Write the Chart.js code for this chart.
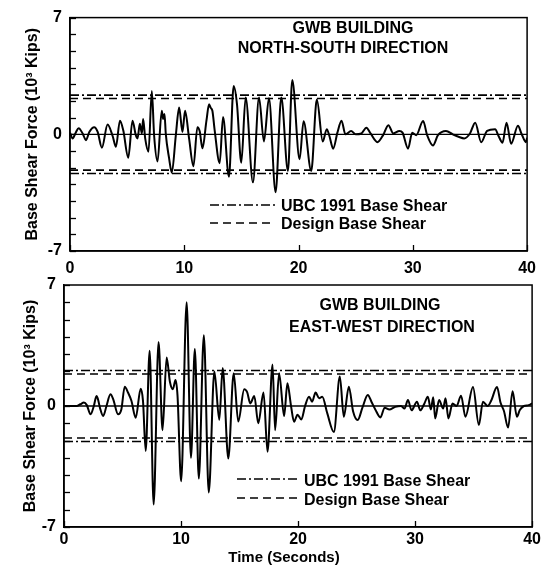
<!DOCTYPE html>
<html>
<head>
<meta charset="utf-8">
<script src="https://cdn.jsdelivr.net/npm/chart.js@4/dist/chart.umd.min.js"></script>
<style>
  html, body { margin: 0; padding: 0; background: #fff; }
  #wrap { position: relative; width: 544px; height: 567px; }
  canvas { position: absolute; left: 0; top: 0; }
</style>
</head>
<body>
<div id="wrap">
  <canvas id="ns-canvas" width="544" height="567"></canvas>
  <canvas id="ew-canvas" width="544" height="567"></canvas>
</div>
<script>
const FONT = '"Liberation Sans", Arial, Helvetica, sans-serif';
Chart.defaults.font.family = FONT;
Chart.defaults.color = '#000';

// North-South record: time (s) and base shear (10^3 kips)
const nsTime = [0, 0.23, 0.5, 0.76, 1.11, 1.4, 1.69, 2.12, 2.42, 2.79, 3.29, 3.73, 4.02, 4.37, 4.66,
  5.1, 5.47, 5.76, 5.91, 6.11, 6.29, 6.4, 6.58, 6.87, 7.16, 7.36, 7.66, 8.03, 8.15, 8.27, 8.38,
  8.67, 8.91, 9.26, 9.55, 9.84, 10.07, 10.42, 10.8, 11.15, 11.35, 11.59, 11.94, 12.17, 12.3,
  12.46, 12.66, 13.1, 13.39, 13.91, 14.32, 14.61, 14.99, 15.37, 16.01, 16.54, 16.97, 17.41,
  17.99, 18.49, 19.07, 19.45, 20.09, 20.44, 21.11, 21.6, 22.12, 22.47, 22.7, 23.03, 23.4, 23.76,
  24.1, 24.6, 25.0, 25.5, 25.94, 26.3, 26.9, 27.4, 27.86, 28.3, 28.82, 29.1, 29.58, 29.95, 30.3,
  30.9, 31.25, 31.76, 32.2, 32.9, 33.5, 34.0, 34.5, 35.0, 35.46, 35.98, 36.5, 37.2, 37.5, 37.85,
  38.2, 38.6, 39.2, 39.5, 39.9, 40];
const nsForce = [0.1, -0.25, 0.1, 0.37, 0.04, -0.35, 0.14, 0.43, 0.14, -0.8, 0.59, -0.1, -0.75, 0.82, 0.24,
  -1.4, 0.82, -0.06, -0.25, 0.63, 0.04, 0.92, -0.25, -1.04, 2.6, -0.06, -1.63, 1.41, 0.92, 1.22, 0.04,
  -1.43, -2.3, -0.06, 1.61, 0.14, 1.41, -0.25, -1.92, 0.43, 0.18, -0.84, 0.82, 1.8, 1.6,
  1.41, 0.24, -1.73, 1.04, -2.55, 2.9, 1.82, -1.7, 2.2, -2.88, 2.2, -0.43, 2.16,
  -3.47, 2.2, -2.2, 3.25, -1.5, 0.78, -2.2, 2.08, -0.43, 0.31, -0.1, -0.86, 0.1, 0.82,
  0, 0.2, 0, 0.05, 0.4, 0.05, -0.47, -0.05, 0.55, 0.05, 0.2, 0.1, -0.86, 0.1, -0.05,
  0.8, -0.05, -0.67, -0.05, 0.2, 0, -0.15, -0.25, 0.05, 0.7, -0.47, 0.2, 0.3, -0.1, -0.5,
  0.7, -0.57, 0.51, 0.05, -0.47, -0.2];
const nsUbcShear = 2.35;
const nsDesignShear = 2.15;

// East-West record
const ewTime = [0, 1.08, 1.4, 1.7, 1.95, 2.27, 2.55, 2.78, 2.92, 3.07, 3.35, 3.63, 3.97, 4.2, 4.62,
  4.9, 5.19, 5.47, 5.76, 6.13, 6.55, 6.75, 6.98, 7.32, 7.66, 8.08, 8.42, 8.77, 9.05, 9.3, 9.53,
  9.7, 10.01, 10.48, 10.85, 11.18, 11.52, 11.95, 12.37, 12.85, 13.27, 13.56, 14.04, 14.5, 14.89,
  15.4, 15.65, 15.92, 16.26, 16.6, 17.05, 17.39, 17.82, 18.04, 18.38, 18.81, 19.09, 19.4, 19.66,
  19.95, 20.28, 20.6, 20.94, 21.2, 21.5, 21.8, 22.07, 22.5, 23.06, 23.57, 23.91, 24.34, 24.7,
  25.1, 25.5, 25.96, 26.3, 26.6, 27.04, 27.4, 27.8, 28.3, 28.8, 29.1, 29.39, 29.7, 30.16, 30.44,
  30.8, 31.09, 31.35, 31.55, 31.72, 32.05, 32.4, 32.6, 32.85, 33.2, 33.55, 33.93, 34.3, 34.95,
  35.45, 35.8, 36.2, 36.5, 37.0, 37.3, 37.6, 37.95, 38.33, 38.7, 38.95, 39.3, 39.7, 40];
const ewForce = [0, 0, 0.1, 0.2, 0.05, -0.48, 0, 0.58, 0.35, -0.1, -0.58, 0, 0.68, 0.4, -0.48,
  -0.2, 1.12, 0.78, 0.3, -0.68, 1.0, 0.3, -2.6, 3.2, -5.7, 3.7, -1.4, 2.8, 1.4, 0.97, 1.5,
  0.6, -4.36, 6.0, -3.0, 3.3, -4.2, 4.1, -5.0, 2.0, -0.8, 2.2, -3.04, 1.9, -0.9,
  0.97, 0.8, 0.15, 0.58, -1.0, 0.78, -2.65, 2.4, -1.4, 1.9, -0.58, 1.32, 0, -0.91,
  -0.5, -0.78, 0, 0.54, 0.25, 0.78, 0.45, 0.54, -0.43, -1.5, 1.7, -0.62, 1.12, -0.3,
  -0.81, -0.1, 0.64, 0.2, -0.2, -0.66, -0.1, -0.2, -0.05, 0, -0.15, 0.35, -0.25, 0.25, -0.25,
  0.15, 0.54, -0.2, 0.5, -0.72, 0.35, -0.15, 0.45, -0.72, 0.15, 0, 0.6, -0.62, 1.1,
  -1.1, 0.25, 0, 0.3, 1.1, 0.2, -0.3, -1.25, 0.85, -0.62, -0.23, 0, 0.05, 0.15];
const ewUbcShear = 2.05;
const ewDesignShear = 1.85;

const timeRange = [0, 40];
const forceRange = [-7, 7];
const forceLabels = [-7, 0, 7];
const legendLabels = ['UBC 1991 Base Shear', 'Design Base Shear'];

const DASH_DOT = [9, 3, 2, 3];
const DASHED = [8, 5];

function stroke(ctx, x0, y0, x1, y1) {
  ctx.beginPath();
  ctx.moveTo(x0, y0);
  ctx.lineTo(x1, y1);
  ctx.stroke();
}

// frame, inward tick marks, titles and legend drawn on top of each panel
const panelText = {
  id: 'panelText',
  afterDraw(chart, args, opts) {
    const ctx = chart.ctx;
    const a = chart.chartArea;
    const xs = chart.scales.x;
    const ys = chart.scales.y;
    ctx.save();
    ctx.strokeStyle = '#000';
    ctx.lineWidth = 1.5;
    ctx.strokeRect(a.left, a.top, a.right - a.left, a.bottom - a.top);

    ctx.lineWidth = 1.3;
    ys.ticks.forEach(t => {
      const py = Math.round(ys.getPixelForValue(t.value)) + 0.5;
      stroke(ctx, a.left, py, a.left + 6, py);
    });
    xs.ticks.forEach(t => {
      const px = Math.round(xs.getPixelForValue(t.value)) + 0.5;
      stroke(ctx, px, a.bottom, px, a.bottom - 6);
    });

    ctx.fillStyle = '#000';
    ctx.font = 'bold 16px ' + FONT;
    ctx.textBaseline = 'alphabetic';
    ctx.textAlign = 'center';
    opts.titles.forEach(t => ctx.fillText(t.text, t.x, t.y));

    const lg = opts.legend;
    [DASH_DOT, DASHED].forEach((dash, i) => {
      ctx.setLineDash(dash);
      ctx.lineWidth = 1.6;
      stroke(ctx, lg.x0, lg.lineY[i], lg.x1, lg.lineY[i]);
      ctx.setLineDash([]);
      ctx.textAlign = 'left';
      ctx.fillText(legendLabels[i], lg.textX, lg.textY[i]);
    });

    if (opts.xTitle) {
      ctx.font = 'bold 15px ' + FONT;
      ctx.textAlign = 'center';
      ctx.fillText(opts.xTitle.text, opts.xTitle.x, opts.xTitle.y);
    }
    ctx.restore();
  }
};

function flatLine(v) {
  return [{ x: timeRange[0], y: v }, { x: timeRange[1], y: v }];
}

function makePanel(canvasId, time, force, ubc, design, box, text) {
  const trace = time.map((t, i) => ({ x: t, y: force[i] }));
  const refStyle = { borderColor: '#000', borderWidth: 1.6, pointRadius: 0, fill: false };
  return new Chart(document.getElementById(canvasId), {
    type: 'line',
    data: {
      datasets: [
        { data: trace, borderColor: '#000', borderWidth: 2, pointRadius: 0, cubicInterpolationMode: 'monotone' },
        { data: flatLine(0), borderColor: '#000', borderWidth: 1.3, pointRadius: 0 },
        Object.assign({ data: flatLine(ubc), borderDash: DASH_DOT }, refStyle),
        Object.assign({ data: flatLine(-ubc), borderDash: DASH_DOT }, refStyle),
        Object.assign({ data: flatLine(design), borderDash: DASHED }, refStyle),
        Object.assign({ data: flatLine(-design), borderDash: DASHED }, refStyle)
      ]
    },
    options: {
      responsive: false,
      animation: false,
      devicePixelRatio: 1,
      layout: { padding: box.padding },
      plugins: {
        legend: { display: false },
        tooltip: { enabled: false },
        panelText: text
      },
      scales: {
        x: {
          type: 'linear',
          min: timeRange[0],
          max: timeRange[1],
          ticks: { stepSize: 10, padding: box.xPad, font: { size: 16, weight: 'bold' }, maxRotation: 0 },
          grid: { display: false, drawTicks: false },
          border: { color: '#000', width: 1.5 },
          afterFit: s => { s.height = box.xHeight; }
        },
        y: {
          type: 'linear',
          min: forceRange[0],
          max: forceRange[1],
          ticks: {
            stepSize: 1,
            autoSkip: false,
            padding: 8,
            font: { size: 16, weight: 'bold' },
            callback: v => forceLabels.includes(v) ? String(v) : ''
          },
          grid: { display: false, drawTicks: false },
          border: { color: '#000', width: 1.5 },
          title: {
            display: true,
            text: 'Base Shear Force (10³ Kips)',
            font: { size: 16, weight: 'bold' },
            padding: { top: box.yTitlePad, bottom: 0 }
          },
          afterFit: s => { s.width = box.yWidth; }
        }
      }
    },
    plugins: [panelText]
  });
}

makePanel('ns-canvas', nsTime, nsForce, nsUbcShear, nsDesignShear,
  { padding: { left: 0, right: 16, top: 13, bottom: 286 }, xHeight: 30, xPad: 8, yWidth: 70, yTitlePad: 23 },
  {
    titles: [
      { text: 'GWB BUILDING', x: 353, y: 33 },
      { text: 'NORTH-SOUTH DIRECTION', x: 343, y: 53 }
    ],
    legend: { x0: 210, x1: 275, lineY: [205, 223], textX: 281, textY: [211, 229] }
  });

makePanel('ew-canvas', ewTime, ewForce, ewUbcShear, ewDesignShear,
  { padding: { left: 0, right: 10, top: 285, bottom: 0 }, xHeight: 40, xPad: 3, yWidth: 64, yTitlePad: 21 },
  {
    titles: [
      { text: 'GWB BUILDING', x: 380, y: 310 },
      { text: 'EAST-WEST DIRECTION', x: 382, y: 332 }
    ],
    legend: { x0: 237, x1: 300, lineY: [479, 498], textX: 304, textY: [486, 505] },
    xTitle: { text: 'Time (Seconds)', x: 284, y: 562 }
  });
</script>
</body>
</html>
